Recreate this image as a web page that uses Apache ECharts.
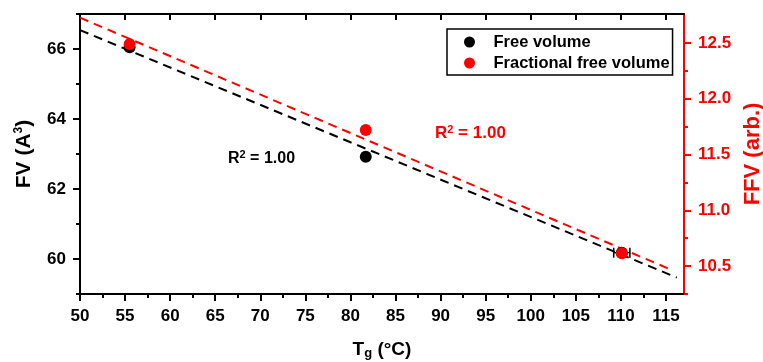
<!DOCTYPE html>
<html>
<head>
<meta charset="utf-8">
<script src="https://cdn.jsdelivr.net/npm/echarts@6/dist/echarts.min.js"></script>
<style>
  html, body { margin: 0; padding: 0; background: #fff; }
  #chart { width: 763px; height: 362px; }
</style>
</head>
<body>
<div id="chart"></div>
<script>
// Glass transition temperature vs. free volume and fractional free volume
const tgValues = [55.5, 81.7, 110.1];
const fvValues = [66.05, 62.92, 60.18];
const ffvValues = [12.49, 11.72, 10.615];
const fvTgError = [0, 0, 0.9];

// Linear fit lines (end points)
const fvFitX = [50, 116.2];
const fvFitY = [66.54, 59.47];
const ffvFitX = [50, 115.5];
const ffvFitY = [12.727, 10.47];

// Axis ticks
const xTicks = [50, 55, 60, 65, 70, 75, 80, 85, 90, 95, 100, 105, 110, 115];
const xMinorTicks = [52.5, 57.5, 62.5, 67.5, 72.5, 77.5, 82.5, 87.5, 92.5, 97.5, 102.5, 107.5, 112.5];
const fvTicks = [60, 62, 64, 66];
const fvMinorTicks = [59, 61, 63, 65, 67];
const ffvTicks = [10.5, 11.0, 11.5, 12.0, 12.5];
const ffvMinorTicks = [10.25, 10.75, 11.25, 11.75, 12.25];

const FONT = '"Liberation Sans", Arial, Helvetica, sans-serif';
const RED = '#ff0000';
const BLACK = '#000000';
const X_MIN = 50, X_MAX = 117;
const FV_MIN = 59, FV_MAX = 67;
const FFV_MIN = 10.25, FFV_MAX = 12.76;

const chart = echarts.init(document.getElementById('chart'), null, { renderer: 'canvas' });

function zip(xs, ys) { return xs.map((x, i) => [x, ys[i]]); }

const supRich = {
  sup: { fontSize: 12, fontWeight: 'bold', fontFamily: FONT, padding: [0, 0, 10, 0] },
  sub: { fontSize: 13, fontWeight: 'bold', fontFamily: FONT, padding: [8, 0, 0, 0] }
};

function hiddenAxisParts() {
  return { axisLine: { show: false }, axisLabel: { show: false }, splitLine: { show: false } };
}

const option = {
  backgroundColor: '#ffffff',
  animation: false,
  grid: { left: 80, right: 79, top: 14, bottom: 68, containLabel: false, outerBoundsMode: 'none' },
  legend: {
    orient: 'vertical',
    left: 447, top: 29,
    padding: [4, 3, 3, 17],
    borderColor: BLACK, borderWidth: 1.5,
    itemWidth: 38, itemHeight: 11, itemGap: 3,
    icon: 'circle',
    data: ['Free volume', 'Fractional free volume'],
    textStyle: { fontFamily: FONT, fontWeight: 'bold', fontSize: 16.5, color: BLACK, lineHeight: 18 }
  },
  xAxis: [
    {
      type: 'value', position: 'bottom', min: X_MIN, max: X_MAX,
      name: 'T{sub|g} (°C)', nameLocation: 'middle', nameGap: 45,
      nameTextStyle: { fontFamily: FONT, fontWeight: 'bold', fontSize: 19, color: BLACK, rich: supRich },
      axisLine: { show: true, lineStyle: { color: BLACK, width: 2 } },
      axisTick: { show: true, inside: false, length: 7, lineStyle: { color: BLACK, width: 2 }, customValues: xTicks },
      axisLabel: { show: true, margin: 14, fontFamily: FONT, fontWeight: 'bold', fontSize: 17, color: BLACK, customValues: xTicks },
      splitLine: { show: false }
    },
    Object.assign({
      type: 'value', position: 'bottom', min: X_MIN, max: X_MAX,
      axisTick: { show: true, inside: false, length: 4, lineStyle: { color: BLACK, width: 2 }, customValues: xMinorTicks }
    }, hiddenAxisParts()),
    {
      type: 'value', position: 'top', min: X_MIN, max: X_MAX,
      axisLine: { show: true, lineStyle: { color: BLACK, width: 2 } },
      axisTick: { show: true, inside: true, length: 6, lineStyle: { color: BLACK, width: 2 }, customValues: xTicks },
      axisLabel: { show: false }, splitLine: { show: false }
    }
  ],
  yAxis: [
    {
      type: 'value', position: 'left', min: FV_MIN, max: FV_MAX,
      name: 'FV (A{sup|3})', nameLocation: 'middle', nameGap: 45, nameRotate: 90,
      nameTextStyle: { fontFamily: FONT, fontWeight: 'bold', fontSize: 21, color: BLACK, rich: supRich },
      axisLine: { show: true, lineStyle: { color: BLACK, width: 2 } },
      axisTick: { show: true, inside: false, length: 7, lineStyle: { color: BLACK, width: 2 }, customValues: fvTicks },
      axisLabel: { show: true, margin: 14, fontFamily: FONT, fontWeight: 'bold', fontSize: 17, color: BLACK, customValues: fvTicks },
      splitLine: { show: false }
    },
    Object.assign({
      type: 'value', position: 'left', min: FV_MIN, max: FV_MAX,
      axisTick: { show: true, inside: false, length: 4, lineStyle: { color: BLACK, width: 2 }, customValues: fvMinorTicks }
    }, hiddenAxisParts()),
    {
      type: 'value', position: 'right', min: FFV_MIN, max: FFV_MAX,
      name: 'FFV (arb.)', nameLocation: 'middle', nameGap: 58, nameRotate: 90,
      nameTextStyle: { fontFamily: FONT, fontWeight: 'bold', fontSize: 22, color: RED },
      axisLine: { show: true, lineStyle: { color: RED, width: 2 } },
      axisTick: { show: true, inside: false, length: 7, lineStyle: { color: RED, width: 2 }, customValues: ffvTicks },
      axisLabel: {
        show: true, margin: 14, fontFamily: FONT, fontWeight: 'bold', fontSize: 17, color: RED,
        customValues: ffvTicks, formatter: v => Number(v).toFixed(1)
      },
      splitLine: { show: false }
    },
    Object.assign({
      type: 'value', position: 'right', min: FFV_MIN, max: FFV_MAX,
      axisTick: { show: true, inside: false, length: 4, lineStyle: { color: RED, width: 2 }, customValues: ffvMinorTicks }
    }, hiddenAxisParts())
  ],
  graphic: [
    {
      type: 'text', left: 228, top: 149, z: 10,
      style: {
        text: 'R{sup|2} = 1.00', fill: BLACK,
        font: 'bold 16px ' + FONT,
        rich: { sup: { fontSize: 11, fontWeight: 'bold', fontFamily: FONT, padding: [0, 0, 8, 0], fill: BLACK } }
      }
    },
    {
      type: 'text', left: 435, top: 124, z: 10,
      style: {
        text: 'R{sup|2} = 1.00', fill: RED,
        font: 'bold 17px ' + FONT,
        rich: { sup: { fontSize: 11, fontWeight: 'bold', fontFamily: FONT, padding: [0, 0, 8, 0], fill: RED } }
      }
    }
  ],
  series: [
    {
      name: 'FV fit', type: 'line', xAxisIndex: 0, yAxisIndex: 0,
      data: zip(fvFitX, fvFitY), symbol: 'none', silent: true,
      lineStyle: { color: BLACK, width: 2, type: [9, 6] }, z: 2
    },
    {
      name: 'FFV fit', type: 'line', xAxisIndex: 0, yAxisIndex: 2,
      data: zip(ffvFitX, ffvFitY), symbol: 'none', silent: true,
      lineStyle: { color: RED, width: 2, type: [9, 6] }, z: 3
    },
    {
      name: 'FV error', type: 'custom', xAxisIndex: 0, yAxisIndex: 0, z: 4,
      data: tgValues.map((x, i) => [x, fvValues[i], fvTgError[i]]),
      renderItem: function (params, api) {
        const err = api.value(2);
        if (!err) return null;
        const y = api.value(1);
        const a = api.coord([api.value(0) - err, y]);
        const b = api.coord([api.value(0) + err, y]);
        const cap = 5;
        const style = { stroke: BLACK, lineWidth: 1.5 };
        return {
          type: 'group',
          children: [
            { type: 'line', shape: { x1: a[0], y1: a[1], x2: b[0], y2: b[1] }, style: style },
            { type: 'line', shape: { x1: a[0], y1: a[1] - cap, x2: a[0], y2: a[1] + cap }, style: style },
            { type: 'line', shape: { x1: b[0], y1: b[1] - cap, x2: b[0], y2: b[1] + cap }, style: style }
          ]
        };
      }
    },
    {
      name: 'Free volume', type: 'scatter', xAxisIndex: 0, yAxisIndex: 0,
      data: zip(tgValues, fvValues), symbol: 'circle', symbolSize: 12,
      itemStyle: { color: BLACK, opacity: 1 }, z: 5
    },
    {
      name: 'Fractional free volume', type: 'scatter', xAxisIndex: 0, yAxisIndex: 2,
      data: zip(tgValues, ffvValues), symbol: 'circle', symbolSize: 12,
      itemStyle: { color: RED, opacity: 1 }, z: 6
    }
  ]
};

chart.setOption(option);
</script>
</body>
</html>
